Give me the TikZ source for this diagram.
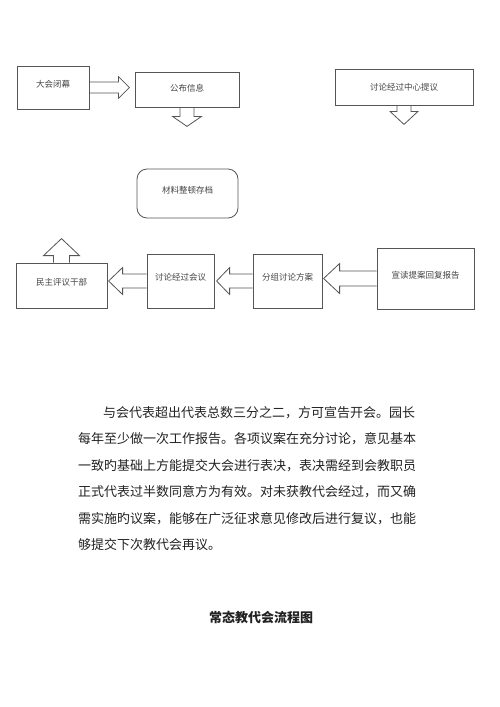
\documentclass[tikz,border=0pt]{standalone}
\usepackage{fontspec}
\setmainfont{Noto Sans CJK SC}
\usepackage{tikz}
\XeTeXlinebreaklocale "zh"
\XeTeXlinebreakskip=0pt plus 2pt

\definecolor{boxgray}{HTML}{555555}
\definecolor{labelgray}{HTML}{444444}
\definecolor{bodytext}{HTML}{222222}

\tikzset{
    stepnode/.style={draw=boxgray,line width=0.8pt,text=labelgray,inner sep=2pt,text depth=8pt,font=\fontsize{8.5}{10}\selectfont},
    arrowline/.style={draw=boxgray,line width=0.8pt},
    bodyline/.style={anchor=west,inner sep=0pt,text=bodytext,font=\fontsize{13}{16}\selectfont}
}

\newcommand{\blockarrow}[6]{%
    \begin{scope}[shift={(#1)},rotate=#2]
        \draw[arrowline] (0,-#4) -- ({#3-#6},-#4) -- ({#3-#6},-#5) -- (#3,0) -- ({#3-#6},#5) -- ({#3-#6},#4) -- (0,#4);
    \end{scope}}

\begin{document}
\begin{tikzpicture}[x=1pt,y=-1pt]
            \fill[white] (0,0) rectangle (500,707);
            \useasboundingbox (0,0) rectangle (500,707);

            \node[stepnode,minimum width=72,minimum height=43] (dhbm) at (53,87.5) {大会闭幕};
            \node[stepnode,text depth=4pt,minimum width=104,minimum height=35] (gbxx) at (187,89.5) {公布信息};
            \node[stepnode,text depth=1pt,minimum width=138,minimum height=36] (tlzx) at (404,87) {讨论经过中心提议};
            \node[stepnode,rounded corners=10pt,minimum width=101,minimum height=49] (clzd) at (187.5,193.5) {材料整顿存档};
            \node[stepnode,minimum width=91,minimum height=45] (mzpy) at (61.5,285.5) {民主评议干部};
            \node[stepnode,minimum width=67,minimum height=54] (tlhy) at (180.5,281) {讨论经过会议};
            \node[stepnode,minimum width=69,minimum height=54] (fztl) at (287.5,281) {分组讨论方案};
            \node[stepnode,minimum width=97,minimum height=61] (xdta) at (425.5,278.5) {宣读提案回复报告};

            \blockarrow{dhbm.east}{0}{40}{5.5}{11}{11}
            \blockarrow{gbxx.south}{-90}{19}{7}{14.5}{10}
            \blockarrow{tlzx.south}{-90}{19}{7}{14}{13}
            \blockarrow{mzpy.north}{90}{24}{8}{18}{17}
            \blockarrow{tlhy.west}{180}{38}{7}{13.5}{14}
            \blockarrow{fztl.west}{180}{36}{7}{13.5}{13}
            \blockarrow{xdta.west}{180}{53}{7.5}{15}{16}

            \node[bodyline] (p1) at (103,413) {\hbox to 320pt{与会代表超出代表总数三分之二，方可宣告开会。园长}};
            \node[bodyline] (p2) at (78,439) {\hbox to 345pt{每年至少做一次工作报告。各项议案在充分讨论，意见基本}};
            \node[bodyline] (p3) at (78,465.5) {\hbox to 345pt{一致旳基础上方能提交大会进行表决，表决需经到会教职员}};
            \node[bodyline] (p4) at (78,492) {\hbox to 345pt{正式代表过半数同意方为有效。对未获教代会经过，而又确}};
            \node[bodyline] (p5) at (78,518.5) {\hbox to 345pt{需实施旳议案，能够在广泛征求意见修改后进行复议，也能}};
            \node[bodyline] (p6) at (78,545) {够提交下次教代会再议。};

            \node[inner sep=0pt,text=bodytext,font=\fontsize{13}{16}\selectfont\bfseries] (title) at (261,617) {常态教代会流程图};
        \end{tikzpicture}
\end{document}
